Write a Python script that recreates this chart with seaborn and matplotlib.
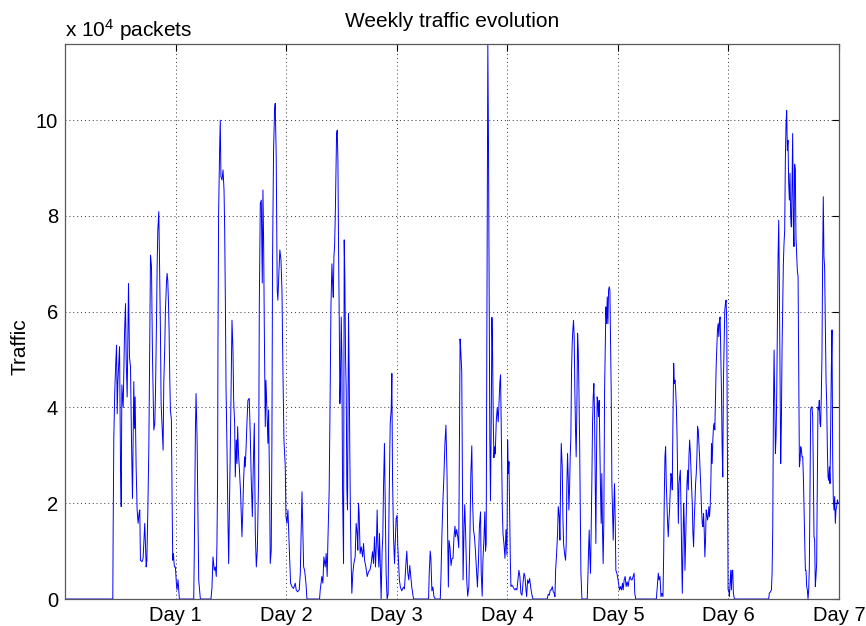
import numpy as np
import pandas as pd
import matplotlib
matplotlib.use("Agg")
import matplotlib.pyplot as plt
import seaborn as sns

# traffic samples: time in days, traffic in 1e4 packets
t_day1 = [0.0, 0.432, 0.435, 0.441, 0.450, 0.460, 0.466, 0.472, 0.478, 0.493, 0.502, 0.508, 0.514, 0.526,
          0.538, 0.547, 0.553, 0.562, 0.574, 0.583, 0.592, 0.601, 0.610, 0.622, 0.628, 0.634, 0.643, 0.652,
          0.661, 0.670, 0.676, 0.682, 0.697, 0.706, 0.712, 0.721, 0.734, 0.740, 0.749, 0.758, 0.767, 0.773,
          0.782, 0.791, 0.803, 0.812, 0.818, 0.827, 0.833, 0.839, 0.848, 0.854, 0.863, 0.869, 0.878, 0.887,
          0.893, 0.902, 0.908, 0.917, 0.923, 0.929, 0.935, 0.941, 0.947, 0.953, 0.962, 0.968, 0.974, 0.980,
          0.989]
v_day1 = [0.0, 0.0, 1.37, 3.35, 4.36, 5.0, 5.3, 3.87, 4.54, 5.27, 2.76, 1.93, 4.47, 4.0,
          5.55, 6.17, 5.0, 4.22, 6.59, 5.06, 4.85, 3.32, 2.1, 4.54, 3.56, 4.22, 2.76, 1.86,
          1.58, 1.8, 1.86, 0.81, 0.78, 0.85, 1.16, 1.58, 0.67, 0.81, 1.86, 3.18, 5.62, 7.18,
          6.94, 5.06, 3.53, 3.67, 4.3, 5.75, 6.94, 7.7, 8.09, 7.15, 5.55, 4.08, 3.6, 3.11,
          4.5, 5.27, 6.03, 6.59, 6.8, 6.66, 6.24, 5.62, 4.64, 3.95, 3.74, 2.14, 0.81, 0.95,
          0.67]

t_day2 = [0.998, 1.007, 1.013, 1.022, 1.028, 1.034, 1.164, 1.170, 1.179, 1.185, 1.194, 1.203, 1.209, 1.224,
          1.320, 1.329, 1.338, 1.350, 1.359, 1.368, 1.374, 1.380, 1.383, 1.389, 1.398, 1.404, 1.410, 1.420,
          1.429, 1.438, 1.444, 1.450, 1.456, 1.465, 1.474, 1.480, 1.489, 1.501, 1.510, 1.519, 1.525, 1.534,
          1.540, 1.549, 1.555, 1.561, 1.570, 1.576, 1.588, 1.600, 1.606, 1.615, 1.624, 1.630, 1.639, 1.645,
          1.654, 1.666, 1.675, 1.685, 1.694, 1.703, 1.712, 1.721, 1.730, 1.739, 1.751, 1.757, 1.766, 1.775,
          1.784, 1.790, 1.796, 1.802, 1.811, 1.817, 1.826, 1.835, 1.841, 1.850, 1.856, 1.865, 1.871, 1.877,
          1.886, 1.895, 1.901, 1.910, 1.919, 1.925, 1.934, 1.943, 1.953, 1.962, 1.971, 1.980, 1.992]
v_day2 = [0.67, 0.33, 0.19, 0.4, 0.19, 0.0, 0.0, 1.16, 3.5, 4.29, 3.39, 1.65, 0.4, 0.0,
          0.0, 0.24, 0.88, 0.6, 0.67, 0.47, 1.16, 2.55, 5.27, 8.05, 9.37, 10.0, 8.82, 8.75,
          8.96, 8.54, 7.7, 6.24, 4.43, 3.11, 1.58, 0.74, 2.2, 4.22, 5.82, 5.2, 4.15, 3.67,
          2.55, 3.32, 2.83, 3.6, 2.97, 2.76, 2.2, 1.3, 1.72, 2.48, 2.97, 2.76, 3.25, 3.67,
          4.15, 4.19, 3.46, 2.41, 1.72, 2.83, 3.67, 1.37, 0.67, 1.02, 2.55, 6.1, 8.26, 8.33,
          6.6, 8.54, 7.5, 5.75, 3.6, 4.57, 3.95, 3.25, 3.95, 2.34, 0.74, 1.02, 3.25, 7.15,
          9.37, 10.2, 10.35, 9.23, 6.45, 6.24, 6.8, 7.29, 7.08, 6.45, 4.71, 3.32, 2.76]

t_day3 = [1.998, 2.007, 2.016, 2.022, 2.031, 2.040, 2.052, 2.067, 2.082, 2.091, 2.103, 2.118, 2.128, 2.134,
          2.143, 2.149, 2.158, 2.167, 2.179, 2.188, 2.302, 2.308, 2.323, 2.332, 2.341, 2.353, 2.362, 2.371,
          2.377, 2.389, 2.398, 2.405, 2.414, 2.420, 2.426, 2.432, 2.438, 2.444, 2.450, 2.456, 2.462, 2.468,
          2.474, 2.480, 2.486, 2.492, 2.498, 2.504, 2.510, 2.519, 2.525, 2.531, 2.537, 2.543, 2.549, 2.555,
          2.564, 2.570, 2.576, 2.582, 2.588, 2.594, 2.603, 2.612, 2.624, 2.633, 2.642, 2.648, 2.654, 2.660,
          2.669, 2.679, 2.691, 2.700, 2.709, 2.721, 2.733, 2.745, 2.757, 2.769, 2.781, 2.790, 2.799, 2.808,
          2.817, 2.823, 2.829, 2.838, 2.844, 2.853, 2.859, 2.868, 2.874, 2.880, 2.889, 2.895, 2.904, 2.913,
          2.922, 2.931, 2.941, 2.950, 2.956, 2.962, 2.971, 2.980, 2.989]
v_day3 = [1.72, 1.58, 1.86, 1.44, 0.88, 0.33, 0.26, 0.22, 0.33, 0.19, 0.15, 0.19, 0.54, 1.23,
          2.24, 1.58, 0.67, 0.6, 0.33, 0.0, 0.0, 0.19, 0.47, 0.33, 0.88, 0.67, 0.95, 0.47,
          1.16, 2.28, 4.29, 6.1, 7.0, 6.6, 6.3, 7.15, 7.36, 7.98, 8.89, 9.72, 9.79, 9.16,
          7.29, 5.89, 4.08, 4.64, 5.89, 5.06, 2.28, 0.74, 7.5, 6.66, 5.06, 4.36, 2.28, 1.86,
          5.96, 4.78, 2.97, 1.58, 0.74, 0.12, 0.54, 0.74, 0.88, 1.58, 1.37, 1.02, 2.0, 1.79,
          0.95, 1.09, 0.88, 1.16, 0.81, 0.67, 0.47, 0.57, 0.6, 0.74, 0.99, 0.74, 1.3, 0.67,
          1.23, 1.86, 1.16, 0.67, 1.37, 0.54, 0.0, 1.02, 1.3, 2.28, 3.25, 2.2, 0.54, 0.0,
          0.1, 2.0, 3.67, 3.95, 4.71, 2.55, 1.3, 0.74, 1.3]

t_day4 = [2.994, 3.003, 3.009, 3.015, 3.024, 3.033, 3.045, 3.061, 3.070, 3.082, 3.091, 3.100, 3.109, 3.118,
          3.127, 3.136, 3.152, 3.288, 3.294, 3.303, 3.309, 3.318, 3.327, 3.336, 3.348, 3.394, 3.400, 3.409,
          3.418, 3.427, 3.436, 3.445, 3.455, 3.461, 3.467, 3.473, 3.482, 3.491, 3.500, 3.509, 3.518, 3.527,
          3.533, 3.542, 3.552, 3.561, 3.567, 3.573, 3.579, 3.588, 3.594, 3.600, 3.609, 3.615, 3.624, 3.633,
          3.642, 3.652, 3.661, 3.670, 3.679, 3.685, 3.694, 3.703, 3.712, 3.721, 3.730, 3.739, 3.748, 3.758,
          3.764, 3.773, 3.779, 3.788, 3.797, 3.803, 3.809, 3.815, 3.821, 3.824, 3.830, 3.836, 3.842, 3.848,
          3.855, 3.861, 3.867, 3.873, 3.879, 3.885, 3.891, 3.900, 3.909, 3.918, 3.927, 3.933, 3.939, 3.948,
          3.955, 3.961, 3.970, 3.979, 3.988, 3.997]
v_day4 = [1.67, 1.75, 1.15, 0.85, 0.4, 0.25, 0.17, 0.25, 0.21, 0.7, 1.0, 0.55, 0.4, 0.7,
          0.47, 0.25, 0.0, 0.0, 0.55, 1.0, 0.85, 0.17, 0.25, 0.06, 0.0, 0.0, 0.47, 1.37,
          2.05, 2.58, 3.25, 3.63, 2.58, 1.3, 0.25, 1.22, 1.07, 0.7, 0.85, 0.85, 1.3, 1.52,
          1.3, 1.45, 1.3, 1.07, 3.18, 5.43, 5.2, 4.75, 2.65, 0.4, 1.52, 1.97, 1.3, 0.4,
          0.06, 0.25, 1.15, 2.58, 3.2, 2.12, 1.45, 1.3, 1.0, 0.62, 0.25, 0.77, 1.52, 1.82,
          0.55, 0.06, 0.77, 1.22, 1.82, 1.0, 1.15, 5.28, 9.48, 11.6, 9.48, 6.18, 3.4, 2.05,
          3.78, 5.88, 5.13, 3.78, 2.95, 3.18, 3.03, 3.7, 4.0, 3.7, 4.23, 4.53, 4.68, 3.03,
          1.9, 1.37, 1.15, 0.85, 1.45, 0.92]

t_day5 = [4.003, 4.009, 4.015, 4.021, 4.027, 4.033, 4.042, 4.051, 4.060, 4.069, 4.078, 4.087, 4.096, 4.105,
          4.114, 4.123, 4.133, 4.142, 4.151, 4.160, 4.169, 4.175, 4.184, 4.193, 4.202, 4.211, 4.220, 4.232,
          4.361, 4.370, 4.380, 4.389, 4.398, 4.407, 4.416, 4.425, 4.431, 4.437, 4.446, 4.455, 4.461, 4.470,
          4.476, 4.482, 4.488, 4.497, 4.503, 4.509, 4.518, 4.527, 4.533, 4.539, 4.545, 4.551, 4.557, 4.563,
          4.569, 4.575, 4.581, 4.587, 4.593, 4.599, 4.605, 4.611, 4.617, 4.623, 4.629, 4.636, 4.642, 4.648,
          4.654, 4.660, 4.666, 4.675, 4.723, 4.729, 4.735, 4.741, 4.747, 4.753, 4.759, 4.765, 4.771, 4.777,
          4.783, 4.789, 4.795, 4.801, 4.807, 4.813, 4.819, 4.825, 4.831, 4.837, 4.843, 4.849, 4.855, 4.861,
          4.867, 4.873, 4.880, 4.886, 4.892, 4.898, 4.904, 4.910, 4.916, 4.922, 4.928, 4.934, 4.940, 4.946,
          4.952, 4.958, 4.964, 4.970, 4.976, 4.982, 4.991]
v_day5 = [3.32, 2.62, 2.87, 1.86, 0.88, 0.26, 0.29, 0.26, 0.22, 0.19, 0.22, 0.19, 0.4, 0.6,
          0.47, 0.12, 0.08, 0.33, 0.54, 0.47, 0.19, 0.05, 0.4, 0.33, 0.43, 0.26, 0.12, 0.0,
          0.0, 0.1, 0.08, 0.19, 0.19, 0.26, 0.15, 0.12, 0.05, 0.6, 0.95, 1.37, 1.93, 1.72,
          1.23, 2.41, 3.25, 2.76, 1.72, 1.16, 0.95, 0.81, 1.16, 2.41, 3.04, 2.55, 1.86, 2.28,
          2.97, 3.39, 4.78, 5.34, 5.62, 5.82, 5.48, 4.36, 3.53, 2.97, 3.95, 5.55, 5.2, 4.36,
          3.32, 1.86, 0.54, 0.0, 0.0, 0.47, 1.02, 1.44, 0.88, 0.54, 1.51, 2.48, 3.67, 4.22,
          4.5, 3.88, 2.62, 1.16, 2.97, 4.22, 4.08, 3.81, 4.15, 3.18, 2.28, 1.58, 2.62, 1.44,
          0.74, 1.58, 4.36, 5.27, 6.1, 5.75, 6.31, 5.75, 6.45, 6.52, 6.45, 5.41, 4.29, 2.41,
          1.79, 1.23, 1.93, 2.41, 1.65, 0.6, 0.54]

t_day6 = [4.997, 5.006, 5.015, 5.024, 5.033, 5.042, 5.048, 5.057, 5.066, 5.075, 5.084, 5.093, 5.102, 5.111,
          5.120, 5.129, 5.138, 5.147, 5.153, 5.162, 5.348, 5.357, 5.366, 5.372, 5.381, 5.390, 5.399, 5.408,
          5.414, 5.420, 5.426, 5.432, 5.438, 5.444, 5.450, 5.456, 5.462, 5.468, 5.474, 5.480, 5.486, 5.492,
          5.498, 5.505, 5.511, 5.517, 5.523, 5.529, 5.535, 5.541, 5.547, 5.553, 5.559, 5.565, 5.571, 5.577,
          5.583, 5.589, 5.595, 5.601, 5.607, 5.613, 5.619, 5.625, 5.631, 5.637, 5.643, 5.649, 5.655, 5.661,
          5.667, 5.673, 5.679, 5.685, 5.691, 5.697, 5.703, 5.709, 5.715, 5.721, 5.727, 5.733, 5.739, 5.745,
          5.751, 5.757, 5.763, 5.769, 5.775, 5.781, 5.787, 5.793, 5.799, 5.805, 5.811, 5.817, 5.823, 5.829,
          5.835, 5.841, 5.847, 5.853, 5.859, 5.865, 5.871, 5.877, 5.883, 5.889, 5.895, 5.901, 5.907, 5.913,
          5.919, 5.925, 5.931, 5.937, 5.943, 5.949, 5.955, 5.961, 5.967, 5.973, 5.979, 5.985, 5.991, 5.997]
v_day6 = [0.47, 0.33, 0.19, 0.26, 0.19, 0.33, 0.19, 0.4, 0.47, 0.26, 0.36, 0.26, 0.4, 0.47,
          0.4, 0.4, 0.47, 0.54, 0.12, 0.0, 0.0, 0.26, 0.54, 0.4, 0.47, 0.05, 0.12, 0.05,
          0.88, 2.14, 2.97, 3.18, 2.41, 2.0, 1.58, 1.3, 1.65, 1.86, 2.28, 2.62, 2.55, 2.28,
          3.67, 4.92, 4.5, 4.57, 4.36, 4.01, 3.46, 2.48, 1.58, 2.41, 2.55, 2.69, 1.93, 0.88,
          0.12, 1.02, 2.0, 1.58, 0.6, 1.23, 1.93, 2.41, 2.69, 2.28, 2.97, 3.32, 3.11, 2.69,
          2.34, 2.0, 1.37, 1.09, 1.65, 2.0, 2.41, 2.62, 2.97, 3.6, 3.53, 3.25, 2.97, 2.62,
          2.28, 1.86, 1.58, 1.51, 1.79, 1.44, 0.88, 1.23, 1.86, 1.79, 1.65, 1.72, 1.93, 1.72,
          1.93, 2.41, 3.25, 2.83, 3.32, 3.6, 3.67, 3.53, 4.15, 4.85, 5.27, 5.62, 5.75, 5.48,
          5.82, 5.89, 5.13, 4.36, 3.18, 2.55, 4.57, 5.34, 6.03, 6.17, 6.24, 5.75, 3.1, 0.19]

t_day7 = [6.003, 6.009, 6.015, 6.021, 6.027, 6.033, 6.039, 6.045, 6.054, 6.364, 6.370, 6.380, 6.389, 6.395,
          6.401, 6.407, 6.413, 6.419, 6.425, 6.431, 6.437, 6.443, 6.449, 6.455, 6.461, 6.467, 6.473, 6.479,
          6.485, 6.491, 6.497, 6.503, 6.509, 6.515, 6.521, 6.527, 6.533, 6.539, 6.545, 6.551, 6.557, 6.563,
          6.569, 6.575, 6.581, 6.587, 6.593, 6.599, 6.605, 6.611, 6.617, 6.623, 6.630, 6.636, 6.642, 6.648,
          6.654, 6.660, 6.666, 6.672, 6.678, 6.684, 6.690, 6.696, 6.702, 6.708, 6.714, 6.720, 6.726, 6.732,
          6.738, 6.744, 6.750, 6.756, 6.762, 6.768, 6.774, 6.780, 6.786, 6.792, 6.798, 6.804, 6.810, 6.816,
          6.822, 6.828, 6.834, 6.840, 6.846, 6.852, 6.858, 6.864, 6.870, 6.877, 6.883, 6.889, 6.895, 6.901,
          6.907, 6.913, 6.919, 6.925, 6.931, 6.937, 6.943, 6.949, 6.955, 6.961, 6.967, 6.973, 6.979, 6.985,
          6.994, 7.0]
v_day7 = [0.19, 0.05, 0.33, 0.6, 0.19, 0.6, 0.6, 0.12, 0.0, 0.0, 0.12, 0.15, 0.19, 0.54,
          1.51, 3.95, 5.2, 4.08, 3.04, 3.39, 4.29, 5.82, 7.15, 7.91, 6.52, 4.64, 2.83, 3.67,
          5.2, 6.1, 7.01, 7.43, 7.7, 9.16, 9.93, 10.2, 9.37, 9.58, 8.68, 8.33, 8.89, 7.98,
          7.77, 8.54, 9.72, 7.84, 7.36, 9.08, 8.96, 7.56, 7.22, 6.87, 6.73, 4.71, 2.76, 2.9,
          3.18, 3.11, 2.97, 2.97, 2.55, 1.86, 1.23, 0.6, 0.6, 0.26, 0.19, 0.0, 0.19, 0.67,
          2.34, 3.95, 4.01, 4.01, 3.81, 2.69, 1.3, 1.23, 0.26, 0.47, 0.74, 2.48, 4.01, 3.95,
          4.15, 3.67, 3.6, 4.22, 5.06, 7.01, 8.4, 7.15, 6.94, 5.62, 4.57, 4.08, 3.11, 2.55,
          2.48, 2.76, 2.41, 3.74, 4.85, 5.62, 2.97, 2.07, 1.86, 2.14, 1.58, 1.86, 1.93, 2.07,
          2.0, 2.0]

day_ticks = [1, 2, 3, 4, 5, 6, 7]
day_labels = ["Day 1", "Day 2", "Day 3", "Day 4", "Day 5", "Day 6", "Day 7"]
y_ticks = [0, 2, 4, 6, 8, 10]

df = pd.DataFrame({
    "t": t_day1 + t_day2 + t_day3 + t_day4 + t_day5 + t_day6 + t_day7,
    "traffic": v_day1 + v_day2 + v_day3 + v_day4 + v_day5 + v_day6 + v_day7,
})

sns.set_style("white")
plt.rcParams['font.family'] = ['Liberation Sans', 'DejaVu Sans']
plt.rcParams['text.color'] = 'black'

fig = plt.figure(figsize=(8.66, 6.26), dpi=100)
ax = fig.add_axes([0.0751, 0.0431, 0.8937, 0.8874])

sns.lineplot(data=df, x="t", y="traffic", ax=ax, color="blue", linewidth=0.7,
             estimator=None, sort=False)

ax.set_xlim(0, 7)
ax.set_ylim(0, 11.6)
ax.set_xticks(day_ticks)
ax.set_xticklabels(day_labels)
ax.set_yticks(y_ticks)
ax.set_xlabel("")
ax.set_ylabel("")

ax.grid(True, linestyle=(0, (1, 3)), color="0.2", linewidth=0.7)
ax.tick_params(direction="in", length=5, width=0.8, top=True, right=True,
               labelsize=14.5, pad=5, colors="black")
for s in ax.spines.values():
    s.set_color("0.35")
    s.set_linewidth(0.9)

fig.text(452 / 866, 1 - 27 / 626, "Weekly traffic evolution", ha="center", va="baseline", fontsize=15)
fig.text(65 / 866, 1 - 37 / 626, r"x 10$\mathregular{^4}$ packets", ha="left", va="baseline", fontsize=15)
fig.text(20 / 866, 1 - 347 / 626, "Traffic", rotation=90, ha="center", va="center", fontsize=15)

plt.savefig("out.png", dpi=100)
